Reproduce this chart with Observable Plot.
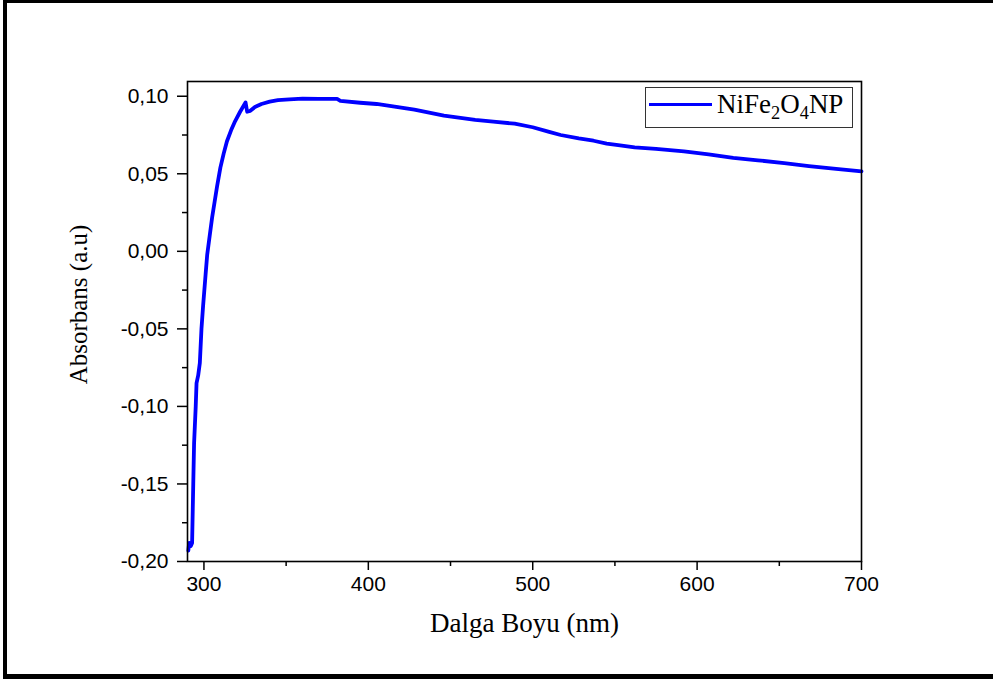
<!DOCTYPE html>
<html>
<head>
<meta charset="utf-8">
<script src="https://cdn.jsdelivr.net/npm/d3@7"></script>
<script src="https://cdn.jsdelivr.net/npm/@observablehq/plot@0.6"></script>
<style>
  html, body { margin: 0; padding: 0; background: #fff; }
  #wrap { position: relative; width: 993px; height: 679px; overflow: hidden; }
  #border { position: absolute; left: 3px; top: 0; width: 990px; height: 679px;
            border-top: 3px solid #000; border-left: 4px solid #000; border-bottom: 5px solid #000;
            box-sizing: border-box; pointer-events: none; }
  #legend { position: absolute; left: 645px; top: 87px; width: 208px; height: 41px;
            border: 1px solid #333; box-sizing: border-box; background: #fff;
            font-family: "Liberation Serif", "Times New Roman", serif; font-size: 27px; }
  #legend .swatch { position: absolute; left: 3px; top: 15px; width: 63px; height: 0;
                    border-top: 3px solid #0000ff; }
  #legend .lbl { position: absolute; left: 71px; top: 1px; line-height: 30px; white-space: nowrap; }
  #legend sub { font-size: 0.68em; vertical-align: -0.35em; line-height: 0; }
</style>
</head>
<body>
<div id="wrap">
  <div id="chart"></div>
  <div id="legend"><div class="swatch"></div><div class="lbl">NiFe<sub>2</sub>O<sub>4</sub>NP</div></div>
  <div id="border"></div>
</div>
<script>
// Wavelength (nm) and absorbance (a.u.)
const wavelength = [290.5, 291, 292, 292.8, 293.5, 294, 295, 295.5, 296.5, 297.5, 298.5, 299.5, 301, 302, 303.5, 305, 306.5, 308, 310, 312, 314, 316.5, 319, 322, 325.3, 326.3, 328, 331, 335, 340, 345, 352, 360, 370, 381, 383, 395, 405, 415, 422, 428, 446, 465, 476, 489, 500, 510, 517, 528, 537, 545, 552, 562, 575, 592, 607, 622, 637, 653, 668, 683, 700];
const absorbance = [-0.193, -0.188, -0.190, -0.188, -0.150, -0.124, -0.100, -0.085, -0.080, -0.072, -0.050, -0.035, -0.015, -0.002, 0.010, 0.022, 0.032, 0.042, 0.054, 0.063, 0.071, 0.078, 0.084, 0.090, 0.096, 0.090, 0.0905, 0.093, 0.095, 0.0965, 0.0975, 0.098, 0.0985, 0.0983, 0.0983, 0.0970, 0.0958, 0.0950, 0.0935, 0.0923, 0.0914, 0.0875, 0.0848, 0.0836, 0.0823, 0.0800, 0.0770, 0.0750, 0.0728, 0.0713, 0.0695, 0.0685, 0.0670, 0.0660, 0.0645, 0.0625, 0.0603, 0.0587, 0.0569, 0.0550, 0.0533, 0.0516];

const xTicks = [300, 400, 500, 600, 700];
const xMinorTicks = [350, 450, 550, 650];
const yTicks = [-0.20, -0.15, -0.10, -0.05, 0.00, 0.05, 0.10];
const yTickLabels = ["-0,20", "-0,15", "-0,10", "-0,05", "0,00", "0,05", "0,10"];
const yMinorTicks = [-0.175, -0.125, -0.075, -0.025, 0.025, 0.075];
const xLabel = "Dalga Boyu (nm)";
const yLabel = "Absorbans (a.u)";

const data = wavelength.map((w, i) => ({w, a: absorbance[i]}));
const sans = "'Liberation Sans', Arial, sans-serif";
const serif = "'Liberation Serif', 'Times New Roman', serif";

const chart = Plot.plot({
  width: 993,
  height: 679,
  marginLeft: 187,
  marginRight: 132,
  marginTop: 81,
  marginBottom: 118,
  style: {background: "transparent", color: "#000"},
  x: {domain: [290, 700], label: null},
  y: {domain: [-0.20, 0.1095], label: null},
  marks: [
    Plot.line(data, {x: "w", y: "a", stroke: "#0000ff", strokeWidth: 3.8, curve: "linear"}),
    Plot.frame({stroke: "#000", strokeWidth: 1.6}),
    Plot.axisX({ticks: xTicks, tickSize: 9, tickPadding: 6, strokeWidth: 1.5, fontSize: 21, fontFamily: sans, label: null, tickFormat: d => String(d)}),
    Plot.axisX({ticks: xMinorTicks, tickSize: 5, strokeWidth: 1.5, label: null, tickFormat: () => ""}),
    Plot.axisY({ticks: yTicks, tickSize: 10, tickPadding: 9, strokeWidth: 1.5, fontSize: 21, fontFamily: sans, label: null, tickFormat: d => yTickLabels[yTicks.indexOf(d)]}),
    Plot.axisY({ticks: yMinorTicks, tickSize: 5, strokeWidth: 1.5, label: null, tickFormat: () => ""}),
    Plot.text([xLabel], {text: d => d, frameAnchor: "bottom", textAnchor: "middle", dy: 70, fontSize: 27, fontFamily: serif, fill: "#000"}),
    Plot.text([yLabel], {text: d => d, frameAnchor: "left", textAnchor: "middle", dx: -109, dy: -17, rotate: -90, fontSize: 25, fontFamily: serif, fill: "#000"})
  ]
});
document.getElementById("chart").appendChild(chart);
</script>
</body>
</html>
